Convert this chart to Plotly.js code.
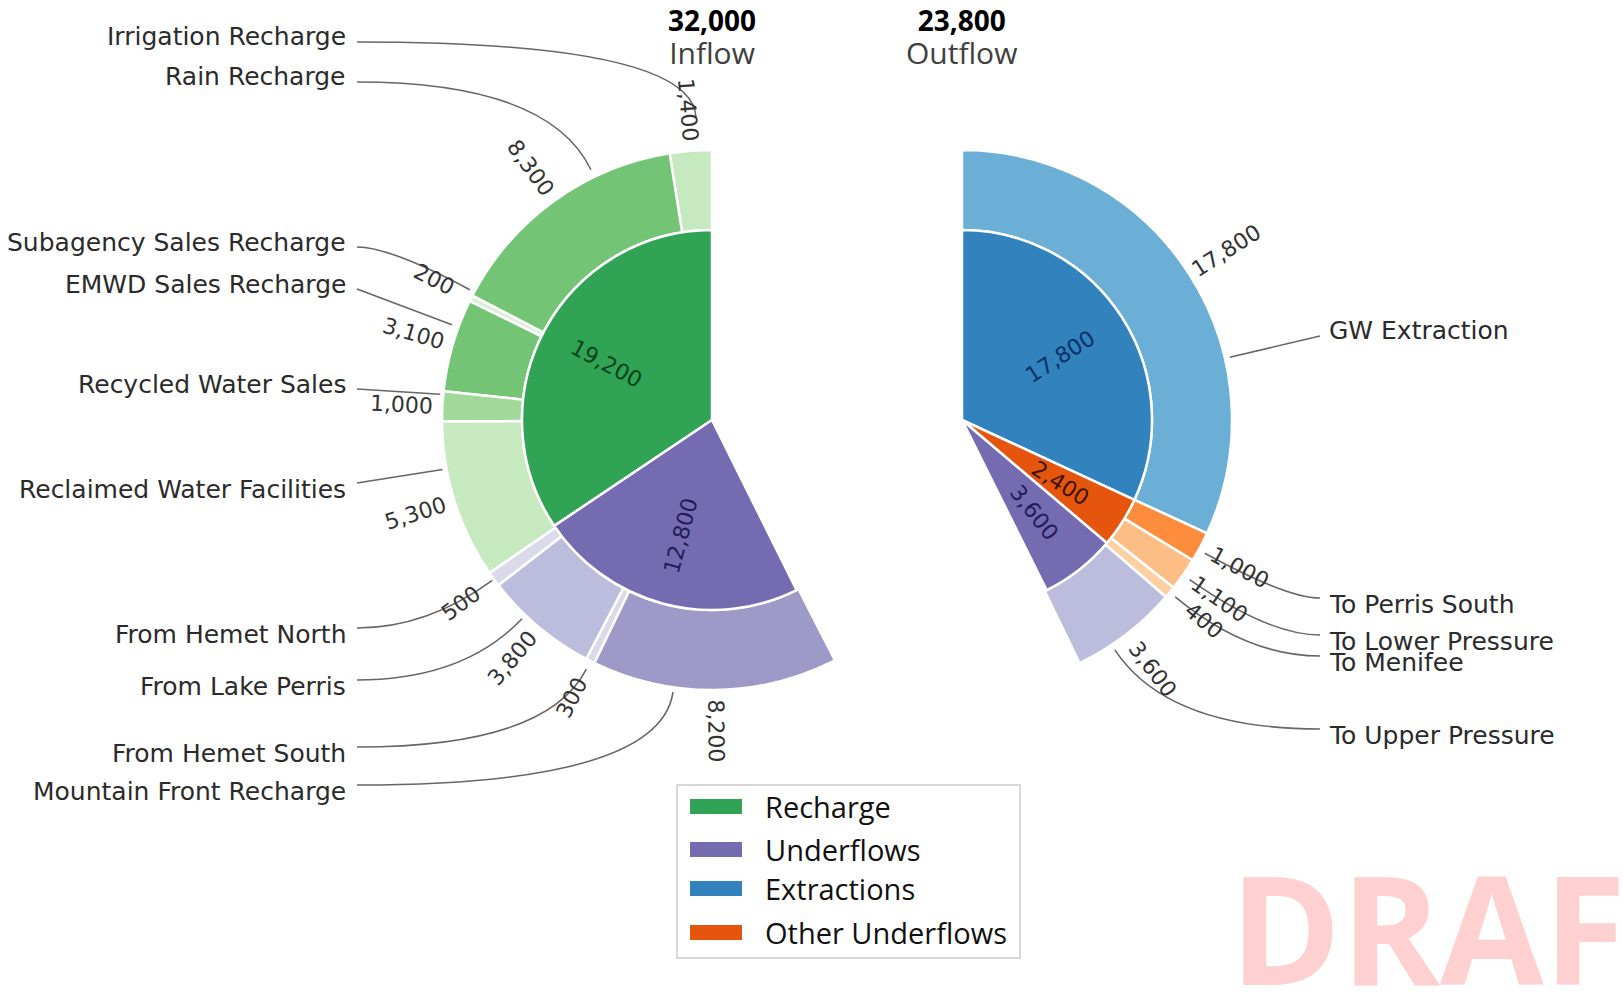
<!DOCTYPE html>
<html><head><meta charset="utf-8">
<script src="https://cdn.plot.ly/plotly-3.0.1.min.js"></script>
<style>html,body{margin:0;padding:0;background:#fff;overflow:hidden}#chart{width:1623px;height:993px}</style>
</head><body><div id="chart"></div>
<script>
// ---------------- data ----------------
const inflowTitle = 'Inflow';
const outflowTitle = 'Outflow';
const inflowTotal = 32000;
const outflowTotal = 23800;
const circleTotal = 55800; // full circle = inflow + outflow

const inflowGroups = ['Recharge', 'Underflows'];
const inflowGroupValues = [19200, 12800];

const inflowItems = ['Irrigation Recharge', 'Rain Recharge', 'Subagency Sales Recharge', 'EMWD Sales Recharge',
  'Recycled Water Sales', 'Reclaimed Water Facilities', 'From Hemet North', 'From Lake Perris',
  'From Hemet South', 'Mountain Front Recharge'];
const inflowItemValues = [1400, 8300, 200, 3100, 1000, 5300, 500, 3800, 300, 8200];

const outflowGroups = ['Extractions', 'Other Underflows', 'Underflows'];
const outflowGroupValues = [17800, 2400, 3600];

const outflowItems = ['GW Extraction', 'To Perris South', 'To Lower Pressure', 'To Menifee', 'To Upper Pressure'];
const outflowItemValues = [17800, 1000, 1100, 400, 3600];

const legendLabels = ['Recharge', 'Underflows', 'Extractions', 'Other Underflows'];

// ---------------- styles / layout ----------------
const W = 1623, H = 993;
const LC = {x: 712, y: 420}, RC = {x: 962, y: 420};
const R_IN = 190, R_OUT = 270;
const inflowGroupColors = ['#31a354', '#756bb1'];
const inflowGroupText = ['#00441b', '#221c58'];
const inflowItemColors = ['#c7e9c0', '#74c476', '#d9f0d3', '#74c476', '#a1d99b', '#c7e9c0', '#dadaeb', '#bcbddc', '#dadaeb', '#9e9ac8'];
const outflowGroupColors = ['#3182bd', '#e6550d', '#756bb1'];
const outflowGroupText = ['#08306b', '#3a1400', '#221c58'];
const outflowItemColors = ['#6baed6', '#fd8d3c', '#fdbe85', '#fdd0a2', '#bcbddc'];
const legendColors = ['#31a354', '#756bb1', '#3182bd', '#e6550d'];

const inflowLabelY = [37, 77, 242, 284, 384, 489, 634, 686, 753, 791];
const outflowLabelY = [331, 604, 641, 662, 735];
// leader end: [angle nudge (deg), radius px]
const inflowLeader = [[-1.5, 303], [-10, 278], [-1.5, 275], [-4, 277], [-2.5, 273], [-7, 274], [0, 272], [-3.7, 275], [0, 279], [-8.8, 275]];
const outflowLeader = [[19.4, 275], [0.7, 277], [0.2, 278], [0, 277], [3.8, 276]];

const sum = a => a.reduce((s, v) => s + v, 0);
const fmt = v => v.toLocaleString('en-US');
const px = x => x / W;
const py = y => 1 - y / H;

function domainFor(c, r) {
  return {x: [px(c.x - r), px(c.x + r)], y: [py(c.y + r), py(c.y - r)]};
}
function mids(vals) {
  let c = 0;
  return vals.map(v => { const m = (c + v / 2) / circleTotal * 360; c += v; return m; });
}
function point(c, sgn, phi, r) {
  const a = phi * Math.PI / 180;
  return {x: c.x + sgn * r * Math.sin(a), y: c.y - r * Math.cos(a)};
}
function textAngle(sgn, phi) {
  let th = sgn < 0 ? 90 + phi : 90 - phi;
  th = ((th % 360) + 360) % 360;
  let rot;
  if (th > 90 && th <= 270) rot = th - 180; else if (th > 270) rot = th - 360; else rot = th;
  return -rot;
}

function pieTrace(vals, labels, colors, c, r, hole, dir, key) {
  const gap = circleTotal - sum(vals);
  // plotly puts the first counterclockwise slice ending at 12 o'clock; shift so it starts there
  const rot = dir === 'counterclockwise' ? -vals[0] / circleTotal * 360 : 0;
  return {
    type: 'pie', values: vals.concat([gap]), labels: labels.concat(['gap' + key]),
    marker: {colors: colors.concat(['rgba(0,0,0,0)']),
      line: {color: vals.map(() => '#ffffff').concat(['rgba(0,0,0,0)']), width: 2.5}},
    sort: false, direction: dir, rotation: rot, hole: hole, textinfo: 'none',
    hoverinfo: 'skip', showlegend: false, domain: domainFor(c, r)
  };
}

const data = [
  pieTrace(inflowItemValues, inflowItems, inflowItemColors, LC, R_OUT, R_IN / R_OUT, 'counterclockwise', 'a'),
  pieTrace(inflowGroupValues, inflowGroups, inflowGroupColors, LC, R_IN, 0, 'counterclockwise', 'b'),
  pieTrace(outflowItemValues, outflowItems, outflowItemColors, RC, R_OUT, R_IN / R_OUT, 'clockwise', 'c'),
  pieTrace(outflowGroupValues, outflowGroups, outflowGroupColors, RC, R_IN, 0, 'clockwise', 'd')
];

const annotations = [];
const shapes = [];
const FONT = 'DejaVu Sans, sans-serif';

function valueLabels(vals, c, sgn, r, size, colors) {
  mids(vals).forEach((m, i) => {
    const p = point(c, sgn, m, r);
    annotations.push({xref: 'paper', yref: 'paper', x: px(p.x), y: py(p.y), text: fmt(vals[i]),
      showarrow: false, xanchor: 'center', yanchor: 'middle', textangle: textAngle(sgn, m),
      font: {family: FONT, size: size, color: colors ? colors[i] : '#333333'}});
  });
}
valueLabels(inflowItemValues, LC, -1, 311, 22);
valueLabels(outflowItemValues, RC, 1, 314, 22);
valueLabels(inflowGroupValues, LC, -1, 120, 22, inflowGroupText);
valueLabels(outflowGroupValues, RC, 1, 117, 22, outflowGroupText);

function nameLabels(items, vals, ys, leaders, c, sgn, textX, lineX) {
  const m = mids(vals);
  items.forEach((name, i) => {
    annotations.push({xref: 'paper', yref: 'paper', x: px(textX), y: py(ys[i]), text: name, showarrow: false,
      xanchor: sgn < 0 ? 'right' : 'left', yanchor: 'middle', font: {family: FONT, size: 25, color: '#2b2b2b'}});
    const phi = m[i] + leaders[i][0];
    const e = point(c, sgn, phi, leaders[i][1]);
    const sy = ys[i] + (e.y > ys[i] ? 5 : -6);
    const s = {x: lineX, y: sy};
    // control point: horizontal from start meets radial line through end
    const a = phi * Math.PI / 180;
    const dx = sgn * Math.sin(a), dy = -Math.cos(a);
    let q = null;
    if (Math.abs(dy) > 0.2) {
      const t = (s.y - e.y) / dy;
      const qx = e.x + t * dx;
      if ((qx - s.x) * (e.x - qx) > 0 && t > 0) q = {x: qx, y: s.y};
    }
    if (!q) q = {x: (s.x + e.x) / 2, y: (s.y + e.y) / 2};
    shapes.push({type: 'path', xref: 'paper', yref: 'paper',
      path: `M ${px(s.x)} ${py(s.y)} Q ${px(q.x)} ${py(q.y)} ${px(e.x)} ${py(e.y)}`,
      line: {color: '#666666', width: 1.6}});
  });
}
nameLabels(inflowItems, inflowItemValues, inflowLabelY, inflowLeader, LC, -1, 348, 357);
nameLabels(outflowItems, outflowItemValues, outflowLabelY, outflowLeader, RC, 1, 1327, 1320);

// titles (total + name in one block)
const TFONT = 'Open Sans, sans-serif';
[[inflowTotal, inflowTitle, LC.x], [outflowTotal, outflowTitle, RC.x - 1]].forEach(([tot, title, x]) => {
  annotations.push({xref: 'paper', yref: 'paper', x: px(x), y: py(37), showarrow: false,
    text: `<span style="font-size:28px;font-weight:bold;color:#000000">${fmt(tot)}</span><br>` +
          `<span style="font-size:30px;color:#404040">${title}</span>`,
    xanchor: 'center', yanchor: 'middle', align: 'center', font: {family: TFONT, size: 25, color: '#000000'}});
});

// legend
shapes.push({type: 'rect', xref: 'paper', yref: 'paper', x0: px(677), x1: px(1020), y0: py(785), y1: py(958),
  line: {color: '#cccccc', width: 1.5}, fillcolor: '#ffffff'});
const legendY = [806, 849, 888, 932];
legendLabels.forEach((lab, i) => {
  shapes.push({type: 'rect', xref: 'paper', yref: 'paper', x0: px(690), x1: px(742), y0: py(legendY[i] + 8), y1: py(legendY[i] - 7),
    line: {width: 0}, fillcolor: legendColors[i]});
  annotations.push({xref: 'paper', yref: 'paper', x: px(763), y: py(legendY[i]), text: lab, showarrow: false,
    xanchor: 'left', yanchor: 'middle', font: {family: TFONT, size: 29, color: '#111111'}});
});

// watermark
annotations.push({xref: 'paper', yref: 'paper', x: px(1228), y: py(823), text: 'DRAFT', showarrow: false,
  xanchor: 'left', yanchor: 'top', font: {family: TFONT, size: 150, color: '#ffd0d0', weight: 700}});

const layout = {
  width: W, height: H, margin: {l: 0, r: 0, t: 0, b: 0}, paper_bgcolor: '#ffffff',
  showlegend: false, annotations: annotations, shapes: shapes
};
Plotly.newPlot('chart', data, layout, {displayModeBar: false, staticPlot: true});
</script></body></html>
